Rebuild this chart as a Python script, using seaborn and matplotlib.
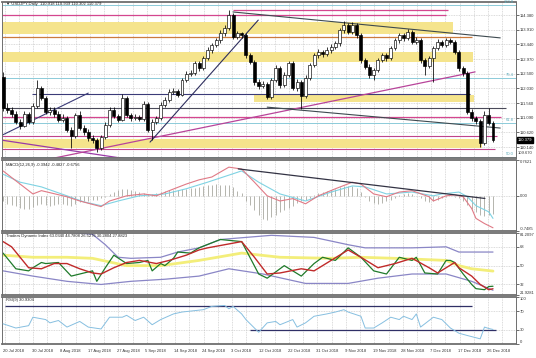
import numpy as np
import matplotlib
matplotlib.use("Agg")
import matplotlib.pyplot as plt
import seaborn as sns

# =========================
# DATA
# =========================
first_open = 112.40
closes = [111.40, 111.34, 111.21, 110.96, 110.83, 111.21, 110.96, 111.47, 112.04, 111.72,
          111.28, 111.34, 111.21, 111.02, 111.08, 110.70, 110.51, 111.18, 110.76, 110.64,
          110.44, 110.38, 110.12, 110.48, 110.86, 111.34, 111.15, 111.02, 111.72, 111.18,
          111.08, 111.12, 111.05, 111.53, 110.70, 110.96, 111.08, 111.50, 111.66, 111.92,
          111.95, 111.82, 112.30, 112.49, 112.52, 112.84, 112.68, 113.00, 113.26, 113.42,
          113.58, 113.80, 113.96, 114.38, 113.68, 113.80, 113.74, 113.10, 112.88, 112.24,
          112.11, 112.17, 111.76, 112.30, 112.68, 112.14, 112.46, 112.84, 112.04, 112.24,
          111.79, 112.36, 112.78, 113.10, 113.20, 113.13, 113.26, 113.36, 113.48, 113.90,
          114.06, 113.84, 114.06, 113.74, 112.94, 112.72, 112.46, 112.62, 112.94, 113.10,
          113.00, 113.32, 113.58, 113.74, 113.64, 113.84, 113.52, 113.58, 112.94, 112.75,
          113.00, 113.32, 113.52, 113.42, 113.58, 113.52, 113.20, 112.68, 112.52, 111.28,
          111.08, 110.99, 110.28, 111.18, 110.92, 110.38]
highs = [112.56, 111.55, 111.45, 111.30, 111.05, 111.30, 111.28, 111.55, 112.30, 112.10,
         111.80, 111.45, 111.42, 111.30, 111.20, 111.15, 110.80, 111.25, 111.30, 110.85,
         110.72, 110.55, 110.45, 110.55, 110.95, 111.45, 111.42, 111.22, 111.85, 111.80,
         111.25, 111.20, 111.18, 111.62, 111.60, 111.05, 111.15, 111.58, 111.75, 112.00,
         112.05, 112.02, 112.38, 112.58, 112.62, 112.92, 112.90, 113.08, 113.35, 113.50,
         113.66, 113.90, 114.05, 114.55, 114.45, 113.88, 113.85, 113.80, 113.18, 112.95,
         112.32, 112.28, 112.25, 112.38, 112.78, 112.75, 112.55, 112.92, 112.90, 112.32,
         112.30, 112.45, 112.86, 113.18, 113.28, 113.25, 113.35, 113.45, 113.56, 113.98,
         114.20, 114.12, 114.15, 114.12, 113.80, 113.00, 112.80, 112.70, 113.02, 113.18,
         113.16, 113.40, 113.66, 113.82, 113.80, 113.95, 113.90, 113.68, 113.64, 113.02,
         113.08, 113.40, 113.60, 113.58, 113.66, 113.64, 113.58, 113.26, 112.76, 112.58,
         111.36, 111.15, 111.05, 111.30, 111.40, 110.98]
lows = [111.30, 111.25, 111.12, 110.90, 110.72, 110.78, 110.90, 110.90, 111.40, 111.65,
        111.20, 111.18, 111.10, 110.95, 110.96, 110.62, 110.12, 110.45, 110.70, 110.55,
        110.35, 110.28, 109.98, 110.05, 110.42, 110.80, 111.08, 110.95, 110.98, 111.10,
        111.00, 111.02, 110.98, 111.00, 110.62, 110.38, 110.90, 111.02, 111.42, 111.60,
        111.85, 111.75, 111.78, 112.22, 112.42, 112.46, 112.60, 112.62, 112.95, 113.18,
        113.35, 113.50, 113.72, 113.90, 113.60, 113.62, 113.65, 113.02, 112.80, 112.15,
        112.02, 112.05, 111.68, 111.70, 112.22, 112.05, 112.08, 112.40, 111.98, 111.96,
        111.38, 111.72, 112.30, 112.72, 113.02, 113.05, 113.06, 113.18, 113.28, 113.40,
        113.82, 113.76, 113.78, 113.66, 112.86, 112.64, 112.38, 112.30, 112.55, 112.88,
        112.92, 112.94, 113.26, 113.50, 113.56, 113.58, 113.45, 113.46, 112.86, 112.45,
        112.68, 112.25, 113.26, 113.35, 113.36, 113.45, 113.12, 112.60, 112.44, 111.20,
        111.00, 110.90, 110.16, 110.22, 110.85, 110.30]

price_ticks = [114.380, 113.910, 113.440, 112.970, 112.500, 112.030, 111.560, 111.090, 110.620, 110.140]
date_labels = ["20 Jul 2018", "30 Jul 2018", "8 Aug 2018", "17 Aug 2018", "27 Aug 2018", "5 Sep 2018",
               "14 Sep 2018", "24 Sep 2018", "3 Oct 2018", "12 Oct 2018", "22 Oct 2018", "31 Oct 2018",
               "9 Nov 2018", "19 Nov 2018", "28 Nov 2018", "7 Dec 2018", "17 Dec 2018", "26 Dec 2018"]

# drawn levels / zones on the price chart
zones = [(114.16, 113.77), (113.20, 112.88), (111.82, 111.59), (110.41, 110.12)]
fibo_levels = [114.70, 112.36, 110.92, 109.83]
fibo_names = ["100.0", "76.4", "61.8", "50.0"]

# MACD
macd_red_x = [0, 7, 9, 15, 18, 23, 25, 29, 33, 36, 39, 43, 46, 49, 53, 56, 59, 62, 65, 68, 71, 74, 78,
              82, 84, 87, 90, 93, 96, 100, 101, 104, 106, 108, 110, 111, 113, 115]
macd_red = [0.53, 0.04, 0.11, -0.02, -0.11, -0.23, -0.11, 0.00, 0.04, 0.00, 0.11, 0.25, 0.34, 0.40,
            0.61, 0.57, 0.29, 0.00, -0.11, -0.06, -0.17, 0.00, 0.15, 0.29, 0.25, 0.04, -0.02, 0.08,
            0.11, -0.02, -0.11, 0.00, 0.02, -0.02, -0.27, -0.48, -0.59, -0.68]
macd_cyan_x = [0, 4, 9, 15, 19, 23, 27, 32, 38, 43, 48, 56, 60, 65, 71, 77, 82, 85, 90, 96, 101, 103,
               107, 109, 111, 114, 115]
macd_cyan = [0.46, 0.29, 0.19, 0.00, -0.13, -0.21, -0.11, 0.00, 0.04, 0.15, 0.29, 0.53, 0.29, 0.04,
             -0.11, 0.08, 0.21, 0.19, 0.04, 0.08, 0.00, 0.04, 0.08, -0.02, -0.21, -0.34, -0.48]
macd_hist = [-0.10, -0.18, -0.20, -0.22, -0.25, -0.27, -0.27, -0.24, -0.20, -0.18,
             -0.20, -0.22, -0.20, -0.18, -0.17, -0.20, -0.22, -0.18, -0.14, -0.10,
             -0.10, -0.08, -0.08, -0.05, -0.02, 0.04, 0.08, 0.12, 0.15, 0.14,
             0.12, 0.10, 0.08, 0.06, 0.03, 0.04, 0.06, 0.08, 0.10, 0.12,
             0.13, 0.13, 0.14, 0.15, 0.16, 0.17, 0.18, 0.20, 0.22, 0.24,
             0.25, 0.24, 0.23, 0.22, 0.18, 0.10, 0.05, -0.10, -0.20, -0.30,
             -0.40, -0.50, -0.52, -0.45, -0.40, -0.35, -0.30, -0.25, -0.22, -0.15,
             -0.10, -0.08, -0.04, 0.02, 0.05, 0.08, 0.10, 0.12, 0.15, 0.18,
             0.20, 0.21, 0.20, 0.16, 0.08, -0.02, -0.10, -0.16, -0.18, -0.15,
             -0.12, -0.08, -0.04, 0.02, 0.04, 0.05, 0.04, 0.00, -0.05, -0.10,
             -0.13, -0.12, -0.08, -0.04, -0.02, 0.00, -0.02, -0.05, -0.10, -0.20,
             -0.28, -0.34, -0.40, -0.42, -0.40, -0.39]

# Traders Dynamic Index
tdi_up_x = [0, 7, 21, 24, 27, 30, 37, 41, 46, 51, 63, 73, 81, 85, 96, 104, 107, 111, 115]
tdi_up = [83, 85, 80, 70, 58, 57, 58, 63, 67, 75, 79, 77, 70, 67, 67, 68, 63, 63, 63]
tdi_lo_x = [0, 7, 15, 23, 30, 38, 46, 53, 61, 71, 81, 88, 96, 104, 110, 115]
tdi_lo = [45, 40, 35, 32, 35, 37, 40, 47, 42, 33, 33, 38, 42, 42, 35, 26.5]
tdi_base_x = [0, 7, 15, 21, 29, 37, 46, 56, 65, 77, 84, 92, 104, 107, 110, 115]
tdi_base = [60, 58, 58, 57, 50, 50, 55, 62, 58, 57, 58, 57, 55, 50, 47, 44.8]
tdi_sig_x = [0, 2, 6, 9, 12, 15, 18, 21, 23, 26, 29, 32, 36, 39, 43, 46, 48, 56, 59, 62, 65, 70, 73,
             77, 81, 84, 88, 92, 96, 100, 102, 104, 106, 107, 110, 112, 114, 115]
tdi_sig = [73, 68, 48, 47, 52, 52, 47, 43, 42, 48, 53, 55, 52, 55, 60, 65, 67, 73, 58, 42, 43, 47,
           45, 55, 65, 58, 48, 52, 57, 48, 43, 48, 53, 48, 40, 32, 27, 27.9]
tdi_rsi_x = [0, 3, 6, 7, 9, 10, 13, 16, 19, 21, 22, 24, 26, 29, 32, 34, 35, 37, 38, 40, 41, 44, 46,
             51, 56, 60, 62, 66, 68, 70, 73, 75, 78, 81, 84, 87, 90, 93, 96, 97, 99, 102, 104, 105,
             106, 108, 110, 111, 113, 114, 115]
tdi_rsi = [62, 47, 45, 48, 53, 52, 53, 40, 43, 45, 35, 48, 60, 52, 53, 55, 45, 52, 50, 57, 63, 62, 67,
           75, 73, 42, 38, 50, 45, 40, 52, 58, 55, 67, 58, 45, 42, 58, 55, 58, 43, 42, 55, 55, 53,
           42, 32, 28, 27, 30, 30.3]

# RSI(9)
rsi_x = [0, 3, 6, 7, 10, 11, 13, 15, 18, 20, 23, 25, 28, 29, 31, 33, 35, 37, 40, 42, 44, 47, 49, 52,
         53, 54, 56, 57, 59, 60, 62, 64, 65, 68, 69, 71, 73, 76, 78, 80, 81, 84, 85, 87, 89, 91, 93,
         94, 96, 97, 98, 101, 103, 105, 107, 109, 112, 113, 114, 115]
rsi = [43, 34, 39, 57, 52, 45, 50, 36, 48, 36, 32, 57, 57, 61, 50, 57, 41, 52, 64, 68, 70, 73, 80, 82,
       75, 80, 64, 52, 34, 25, 45, 48, 41, 52, 36, 45, 59, 64, 68, 73, 68, 59, 34, 34, 45, 57, 52, 59,
       52, 64, 36, 57, 52, 34, 23, 18, 11, 36, 33, 30.9]

# =========================
# FIGURE
# =========================
sns.set_style("white")
plt.rcParams['font.family'] = ['Liberation Sans', 'DejaVu Sans']
W, H = 536, 358
fig = plt.figure(figsize=(W / 100, H / 100), dpi=100)

def axes_px(x0, y0, x1, y1):
    return fig.add_axes([x0 / W, 1 - y1 / H, (x1 - x0) / W, (y1 - y0) / H])

FS = 3.0
n = len(closes)
bars = np.arange(n)
opens = [first_open] + closes[:-1]
XL = (-0.25, 120.4)
vgrid = [(1.5 + 14.22 * k) / 4.26 for k in range(36)]
label_pos = [6.68 * k for k in range(len(date_labels))]

def style_panel(ax, ylim, ticks, labels, grid_ticks):
    ax.set_xlim(*XL)
    ax.set_ylim(*ylim)
    ax.yaxis.tick_right()
    ax.set_yticks(ticks)
    ax.set_yticklabels(labels)
    ax.tick_params(axis='y', length=2, width=0.5, labelsize=FS, pad=1, colors='#333333')
    ax.set_xticks([])
    for x in vgrid:
        ax.axvline(x, color='#b8b8b8', lw=0.4, ls=(0, (1.5, 1.5)), zorder=0)
    for y in grid_ticks:
        ax.axhline(y, color='#b8b8b8', lw=0.4, ls=(0, (1.5, 1.5)), zorder=0)
    for s in ['top', 'bottom']:
        ax.spines[s].set_color('#6e6e6e')
        ax.spines[s].set_linewidth(1.3)
    for s in ['left', 'right']:
        ax.spines[s].set_color('#6e6e6e')
        ax.spines[s].set_linewidth(0.7)

def edge_labels(ax):
    # max / min of the sub-window sit inside the window edges
    lbls = ax.get_yticklabels()
    lbls[0].set_va('top')
    lbls[-1].set_va('bottom')

# ---------- main price panel ----------
ax = axes_px(2, 2, 516, 158)
style_panel(ax, (109.80, 114.80), price_ticks, [f"{p:.3f}" for p in price_ticks], price_ticks)

zone_spans = [(-0.3, 105.5), (-0.3, 110.3), (59.0, 110.5), (-0.3, 112.5)]
for (hi, lo), (x0, x1) in zip(zones, zone_spans):
    ax.fill_between([x0, x1], lo, hi, color='#f5e48c', lw=0, zorder=1)

for lvl, name in zip(fibo_levels, fibo_names):
    ax.axhline(lvl, color='#8ccbd9', lw=0.7, zorder=2)
    ax.text(119.9, lvl + 0.03, name, fontsize=FS, color='#5aaabb', ha='right', va='bottom')

hl = dict(zorder=2)
ax.hlines(114.38, -0.3, 104.0, color='#d4468f', lw=0.9, **hl)
ax.hlines(114.54, 54.0, 104.5, color='#d4468f', lw=0.9, **hl)
ax.hlines(113.69, -0.3, 110.0, color='#cc7a3c', lw=0.9, **hl)
ax.hlines(111.85, 6.8, 109.6, color='#3b3b78', lw=0.8, **hl)
ax.hlines(111.39, -0.3, 118.0, color='#4a4a5a', lw=0.8, **hl)
ax.hlines(111.10, -0.3, 116.8, color='#d4468f', lw=0.9, **hl)
ax.hlines(110.52, -0.3, 116.0, color='#c0448a', lw=0.8, **hl)
ax.hlines(110.09, -0.3, 115.5, color='#c0448a', lw=0.8, **hl)

# trend lines
ax.plot([-0.7, 20.0], [110.50, 111.88], color='#3b3b78', lw=0.8, zorder=2)
ax.plot([-0.7, 30.5], [110.38, 109.74], color='#9a3aa8', lw=0.9, zorder=2)
ax.plot([9.9, 110.8], [109.74, 112.56], color='#b8449a', lw=0.9, zorder=2)
ax.plot([34.5, 59.9], [110.31, 114.22], color='#2e2e5e', lw=0.8, zorder=2)
ax.plot([54.0, 116.7], [114.48, 113.65], color='#3e4a50', lw=0.8, zorder=2)
ax.plot([62.0, 116.7], [111.43, 110.76], color='#3e4a50', lw=0.8, zorder=2)

# candles
ax.vlines(bars, lows, highs, color='black', lw=0.55, zorder=3)
body_lo = np.minimum(opens, closes)
body_h = np.maximum(np.abs(np.array(closes) - np.array(opens)), 0.012)
up = np.array(closes) >= np.array(opens)
ax.bar(bars[up], body_h[up], bottom=body_lo[up], width=0.7, color='white',
       edgecolor='black', linewidth=0.45, zorder=4)
ax.bar(bars[~up], body_h[~up], bottom=body_lo[~up], width=0.7, color='black',
       edgecolor='black', linewidth=0.45, zorder=4)

ax.text(0.6, 114.72, "\u25bc USDJPY,Daily  110.918 110.939 110.302 110.379", fontsize=FS,
        color='#222222', va='center', ha='left', zorder=5)
ax.text(1.003, 110.379, "110.379", transform=ax.get_yaxis_transform(), fontsize=FS,
        color='white', va='center', ha='left',
        bbox=dict(boxstyle='square,pad=0.15', fc='black', ec='black'), zorder=6)
fig.text(518 / W, 1 - 153 / H, "109.670", fontsize=FS, color='#333333', va='center', ha='left')

# ---------- MACD ----------
ax2 = axes_px(2, 160, 516, 231)
style_panel(ax2, (-0.7485, 0.7621), [0.7621, 0.0, -0.7485], ["0.7621", "0.00", "-0.7485"], [0.0])
edge_labels(ax2)
ax2.vlines(bars, 0, macd_hist, color='#a8a8a0', lw=0.6, zorder=2)
sns.lineplot(x=macd_cyan_x, y=macd_cyan, ax=ax2, color='#7fd3e3', lw=0.8, estimator=None, sort=False, zorder=3)
sns.lineplot(x=macd_red_x, y=macd_red, ax=ax2, color='#e07a86', lw=0.8, estimator=None, sort=False, zorder=4)
ax2.plot([55.2, 113.1], [0.573, -0.056], color='#333344', lw=0.9, zorder=5)
ax2.set_xlim(*XL)
ax2.set_xlabel(""); ax2.set_ylabel("")
ax2.text(0.6, 0.70, "MACD(12,26,9) -0.3942 -0.4827 -0.6756", fontsize=FS, color='#222222', va='top')

# ---------- TDI ----------
ax3 = axes_px(2, 233, 516, 295)
style_panel(ax3, (21.9281, 81.2097), [81.2097, 68, 50, 32, 21.9281],
            ["81.2097", "68", "50", "32", "21.9281"], [68, 50, 32])
edge_labels(ax3)
sns.lineplot(x=tdi_up_x, y=tdi_up, ax=ax3, color='#8a86c6', lw=0.9, estimator=None, sort=False)
sns.lineplot(x=tdi_lo_x, y=tdi_lo, ax=ax3, color='#8a86c6', lw=0.9, estimator=None, sort=False)
sns.lineplot(x=tdi_base_x, y=tdi_base, ax=ax3, color='#f3ee7a', lw=2.0, estimator=None, sort=False)
sns.lineplot(x=tdi_rsi_x, y=tdi_rsi, ax=ax3, color='#1f7a2a', lw=0.9, estimator=None, sort=False)
sns.lineplot(x=tdi_sig_x, y=tdi_sig, ax=ax3, color='#c02a2a', lw=1.0, estimator=None, sort=False)
ax3.set_xlim(*XL)
ax3.set_ylim(21.9281, 81.2097)
ax3.set_xlabel(""); ax3.set_ylabel("")
ax3.text(0.6, 80.0, "Traders Dynamic Index 63.0340 44.7808 26.5276 30.2804 27.8823",
         fontsize=FS, color='#222222', va='top')

# ---------- RSI ----------
ax4 = axes_px(2, 297, 516, 344)
style_panel(ax4, (0, 100), [100, 70, 30, 0], ["100", "70", "30", "0"], [70, 30])
edge_labels(ax4)
ax4.hlines(81, 0.5, 110.0, color='#2f2f66', lw=0.9, zorder=2)
ax4.hlines(30, 58.0, 115.8, color='#2f2f66', lw=0.9, zorder=2)
sns.lineplot(x=rsi_x, y=rsi, ax=ax4, color='#86bfe0', lw=0.7, estimator=None, sort=False, zorder=3)
ax4.set_xlim(*XL)
ax4.set_ylim(0, 100)
ax4.set_xlabel(""); ax4.set_ylabel("")
ax4.text(0.6, 97, "RSI(9) 30.9304", fontsize=FS, color='#222222', va='top')

ax4.set_xticks(label_pos)
ax4.set_xticklabels(date_labels, ha='left')
ax4.tick_params(axis='x', length=2, width=0.5, labelsize=FS, pad=1.5, colors='#333333')

fig.savefig("out.png", dpi=100, facecolor='white')
